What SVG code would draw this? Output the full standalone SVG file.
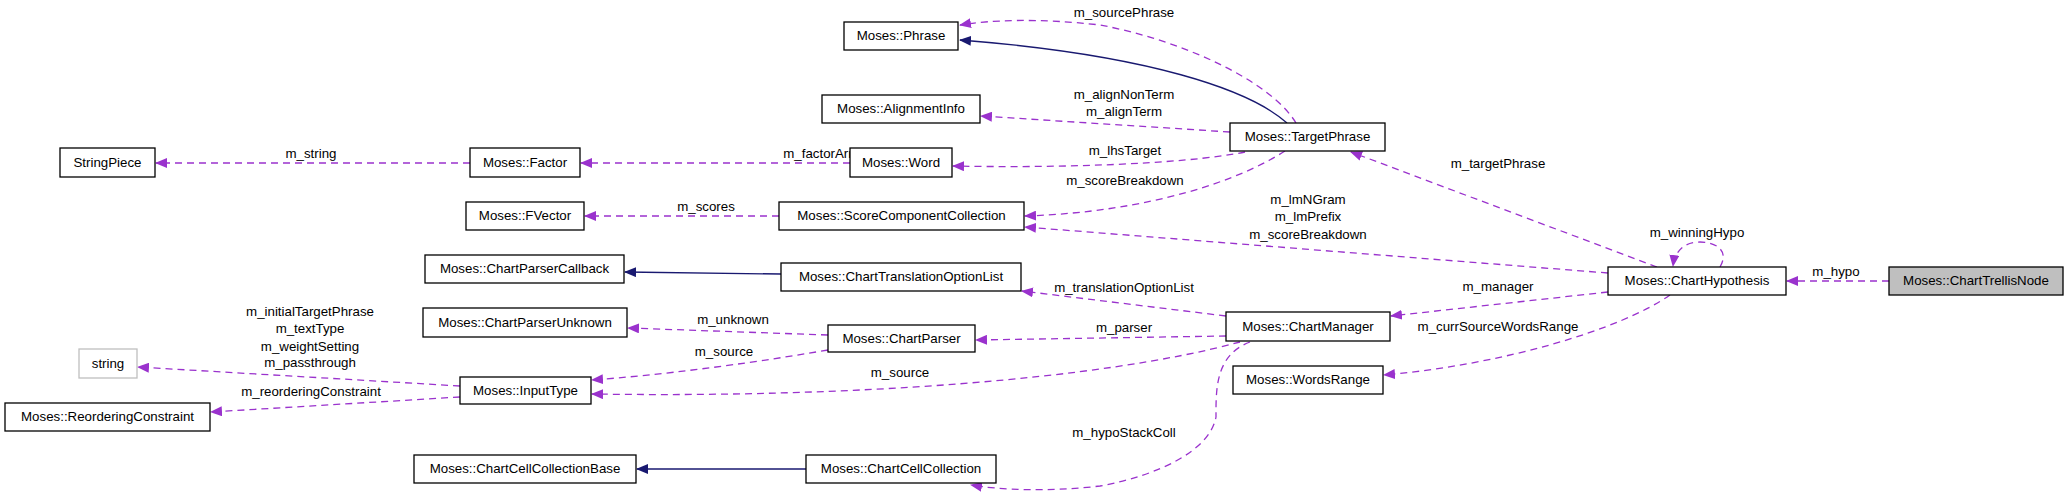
<svg xmlns="http://www.w3.org/2000/svg" width="2069" height="495" viewBox="0 0 2069 495">
<style>
.n rect{fill:#fff;stroke:#000;stroke-width:1.3}
text{font-family:"Liberation Sans",Arial,sans-serif;font-size:13.3px;fill:#000}
.n text{text-anchor:middle}
.l{text-anchor:middle}
.d{fill:none;stroke:#9a32cd;stroke-width:1.3;stroke-dasharray:7,5}
.s{fill:none;stroke:#191970;stroke-width:1.3}
</style>
<defs>
<marker id="ap" markerWidth="12" markerHeight="10" refX="11" refY="5" orient="auto" markerUnits="userSpaceOnUse"><path d="M0,0L12,5L0,10z" fill="#9a32cd"/></marker>
<marker id="an" markerWidth="12" markerHeight="10" refX="11" refY="5" orient="auto" markerUnits="userSpaceOnUse"><path d="M0,0L12,5L0,10z" fill="#191970"/></marker>
</defs>
<g id="edges">
<path class="d" marker-end="url(#ap)" d="M1296,123 C1270,80 1180,40 1100,25 C1040,18 990,20 960,25"/>
<path class="s" marker-end="url(#an)" d="M1287,123 C1250,90 1150,55 960,40"/>
<path class="d" marker-end="url(#ap)" d="M1230,132 L981,116"/>
<path class="d" marker-end="url(#ap)" d="M1245,152 C1180,165 1050,168 953,166"/>
<path class="d" marker-end="url(#ap)" d="M1285,151 C1240,180 1150,212 1025,216"/>
<path class="d" marker-end="url(#ap)" d="M470,163 L156,163"/>
<path class="d" marker-end="url(#ap)" d="M850,163 L581,163"/>
<path class="d" marker-end="url(#ap)" d="M779,216 L585,216"/>
<path class="s" marker-end="url(#an)" d="M781,274 L625,272"/>
<path class="d" marker-end="url(#ap)" d="M828,335 L628,328"/>
<path class="d" marker-end="url(#ap)" d="M828,350 C740,365 660,375 592,380"/>
<path class="s" marker-end="url(#an)" d="M806,469 L637,469"/>
<path class="d" marker-end="url(#ap)" d="M460,386 L138,367"/>
<path class="d" marker-end="url(#ap)" d="M460,397 L211,412"/>
<path class="d" marker-end="url(#ap)" d="M1226,316 L1022,291"/>
<path class="d" marker-end="url(#ap)" d="M1226,336 L976,340"/>
<path class="d" marker-end="url(#ap)" d="M1240,342 C1100,380 850,398 592,394"/>
<path class="d" marker-end="url(#ap)" d="M1250,342 C1215,355 1216,390 1216,417 C1210,450 1160,475 1100,486 C1050,492 1000,490 971,485"/>
<path class="d" marker-end="url(#ap)" d="M1657,267 L1351,152"/>
<path class="d" marker-end="url(#ap)" d="M1608,273 L1025,227"/>
<path class="d" marker-end="url(#ap)" d="M1608,292 L1391,316"/>
<path class="d" marker-end="url(#ap)" d="M1670,295 C1620,330 1500,365 1384,375"/>
<path class="d" marker-end="url(#ap)" d="M1720,267 C1730,250 1715,242 1700,242 C1685,242 1675,250 1673,266"/>
<path class="d" marker-end="url(#ap)" d="M1889,281 L1787,281"/>
</g>
<g id="labels">
<text class="l" x="1124" y="17">m_sourcePhrase</text>
<text class="l" x="1124" y="99">m_alignNonTerm</text>
<text class="l" x="1124" y="116">m_alignTerm</text>
<text class="l" x="1125" y="155">m_lhsTarget</text>
<text class="l" x="1125" y="185">m_scoreBreakdown</text>
<text class="l" x="311" y="158">m_string</text>
<text class="l" x="825" y="158">m_factorArray</text>
<text class="l" x="706" y="211">m_scores</text>
<text class="l" x="1308" y="204">m_lmNGram</text>
<text class="l" x="1308" y="221">m_lmPrefix</text>
<text class="l" x="1308" y="239">m_scoreBreakdown</text>
<text class="l" x="1124" y="292">m_translationOptionList</text>
<text class="l" x="1124" y="332">m_parser</text>
<text class="l" x="733" y="324">m_unknown</text>
<text class="l" x="724" y="356">m_source</text>
<text class="l" x="900" y="377">m_source</text>
<text class="l" x="1124" y="437">m_hypoStackColl</text>
<text class="l" x="310" y="316">m_initialTargetPhrase</text>
<text class="l" x="310" y="333">m_textType</text>
<text class="l" x="310" y="351">m_weightSetting</text>
<text class="l" x="310" y="367">m_passthrough</text>
<text class="l" x="311" y="396">m_reorderingConstraint</text>
<text class="l" x="1498" y="168">m_targetPhrase</text>
<text class="l" x="1697" y="237">m_winningHypo</text>
<text class="l" x="1498" y="291">m_manager</text>
<text class="l" x="1498" y="331">m_currSourceWordsRange</text>
<text class="l" x="1836" y="276">m_hypo</text>
</g>
<g id="StringPiece" class="n"><rect x="60" y="148" width="95" height="29"/><text x="107.5" y="167">StringPiece</text></g>
<g id="Factor" class="n"><rect x="470" y="148" width="110" height="29"/><text x="525" y="167">Moses::Factor</text></g>
<g id="FVector" class="n"><rect x="466" y="202" width="118" height="28"/><text x="525" y="220">Moses::FVector</text></g>
<g id="ChartParserCallback" class="n"><rect x="425" y="255" width="199" height="28"/><text x="524.5" y="273">Moses::ChartParserCallback</text></g>
<g id="ChartParserUnknown" class="n"><rect x="423" y="308" width="204" height="29"/><text x="525" y="327">Moses::ChartParserUnknown</text></g>
<g id="string" class="n"><rect x="79" y="349" width="58" height="29" style="stroke:#bfbfbf"/><text x="108" y="368">string</text></g>
<g id="InputType" class="n"><rect x="460" y="377" width="131" height="27"/><text x="525.5" y="395">Moses::InputType</text></g>
<g id="ReorderingConstraint" class="n"><rect x="5" y="403" width="205" height="28"/><text x="107.5" y="421">Moses::ReorderingConstraint</text></g>
<g id="ChartCellCollectionBase" class="n"><rect x="414" y="455" width="222" height="28"/><text x="525" y="473">Moses::ChartCellCollectionBase</text></g>
<g id="Phrase" class="n"><rect x="844" y="22" width="114" height="28"/><text x="901" y="40">Moses::Phrase</text></g>
<g id="AlignmentInfo" class="n"><rect x="822" y="95" width="158" height="28"/><text x="901" y="113">Moses::AlignmentInfo</text></g>
<g id="Word" class="n"><rect x="850" y="148" width="102" height="29"/><text x="901" y="167">Moses::Word</text></g>
<g id="ScoreComponentCollection" class="n"><rect x="779" y="202" width="245" height="28"/><text x="901.5" y="220">Moses::ScoreComponentCollection</text></g>
<g id="ChartTranslationOptionList" class="n"><rect x="781" y="263" width="240" height="28"/><text x="901" y="281">Moses::ChartTranslationOptionList</text></g>
<g id="ChartParser" class="n"><rect x="828" y="325" width="147" height="27"/><text x="901.5" y="343">Moses::ChartParser</text></g>
<g id="ChartCellCollection" class="n"><rect x="806" y="455" width="190" height="28"/><text x="901" y="473">Moses::ChartCellCollection</text></g>
<g id="TargetPhrase" class="n"><rect x="1230" y="123" width="155" height="28"/><text x="1307.5" y="141">Moses::TargetPhrase</text></g>
<g id="ChartManager" class="n"><rect x="1226" y="312" width="164" height="29"/><text x="1308" y="331">Moses::ChartManager</text></g>
<g id="WordsRange" class="n"><rect x="1233" y="366" width="150" height="28"/><text x="1308" y="384">Moses::WordsRange</text></g>
<g id="ChartHypothesis" class="n"><rect x="1608" y="267" width="178" height="28"/><text x="1697" y="285">Moses::ChartHypothesis</text></g>
<g id="ChartTrellisNode" class="n"><rect x="1889" y="267" width="174" height="28" style="fill:#bfbfbf"/><text x="1976" y="285">Moses::ChartTrellisNode</text></g>
</svg>
